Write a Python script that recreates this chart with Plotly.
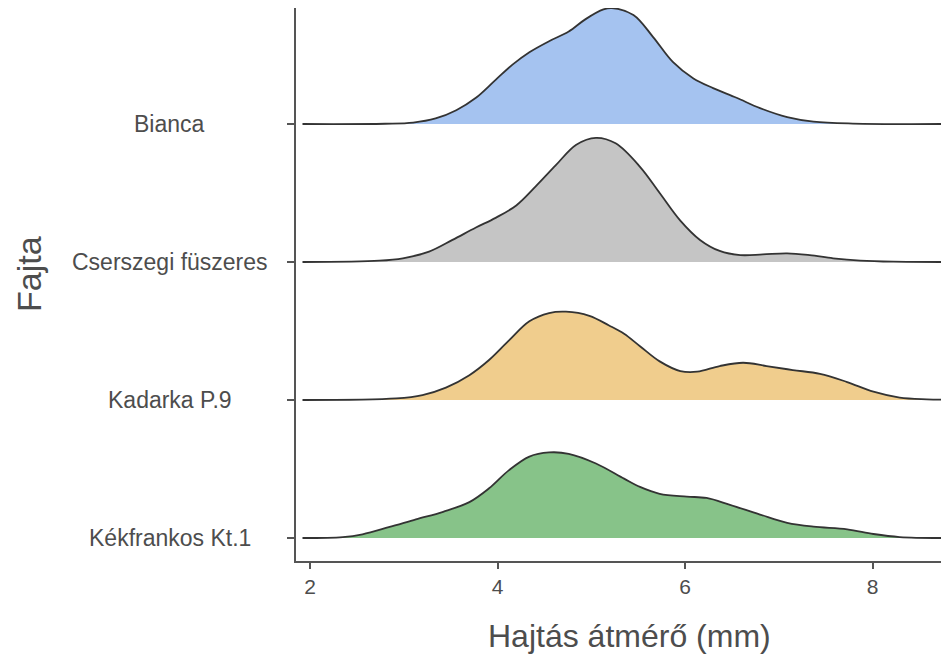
import plotly.graph_objects as go

# Categories (bottom to top positions 1..4)
categories = ["Kékfrankos Kt.1", "Kadarka P.9", "Cserszegi füszeres", "Bianca"]
positions = [1, 2, 3, 4]
colors = ["#87C389", "#F0CD8D", "#C5C5C5", "#A5C3F0"]

# Density curves (heights in units of row spacing)
bianca_x = [1.92, 2.80, 3.10, 3.34, 3.56, 3.77, 3.98, 4.16, 4.34, 4.55, 4.76, 4.94, 5.13, 5.22,
            5.45, 5.66, 5.87, 6.09, 6.30, 6.55, 6.80, 7.09, 7.37, 7.79, 8.79]
bianca_h = [0, 0.002, 0.01, 0.04, 0.10, 0.19, 0.32, 0.43, 0.52, 0.60, 0.67, 0.76, 0.83, 0.84,
            0.79, 0.63, 0.45, 0.33, 0.26, 0.19, 0.115, 0.05, 0.017, 0.003, 0]

cserszegi_x = [1.92, 2.74, 2.99, 3.27, 3.52, 3.77, 3.98, 4.20, 4.41, 4.62, 4.84, 5.05, 5.26,
               5.52, 5.73, 5.95, 6.16, 6.37, 6.59, 6.83, 7.09, 7.33, 7.58, 7.87, 8.22, 8.79]
cserszegi_h = [0, 0.01, 0.027, 0.075, 0.16, 0.25, 0.32, 0.41, 0.55, 0.70, 0.85, 0.90, 0.86,
               0.69, 0.50, 0.30, 0.16, 0.08, 0.05, 0.055, 0.063, 0.05, 0.027, 0.01, 0.002, 0]

kadarka_x = [1.92, 2.92, 3.20, 3.45, 3.70, 3.91, 4.12, 4.34, 4.55, 4.73, 4.98, 5.19, 5.35, 5.52,
             5.73, 5.95, 6.13, 6.37, 6.62, 6.87, 7.15, 7.44, 7.73, 8.01, 8.29, 8.58, 8.82]
kadarka_h = [0, 0.012, 0.036, 0.09, 0.18, 0.29, 0.43, 0.57, 0.63, 0.64, 0.61, 0.54, 0.48, 0.39,
             0.28, 0.21, 0.205, 0.246, 0.27, 0.246, 0.217, 0.19, 0.13, 0.06, 0.017, 0.005, 0.002]

kekfrankos_x = [1.92, 2.35, 2.56, 2.84, 3.13, 3.42, 3.70, 3.91, 4.12, 4.34, 4.55, 4.76, 5.05,
                5.35, 5.52, 5.73, 6.02, 6.23, 6.48, 6.80, 7.09, 7.37, 7.73, 8.01, 8.29, 8.79]
kekfrankos_h = [0, 0.007, 0.027, 0.078, 0.135, 0.19, 0.26, 0.36, 0.49, 0.59, 0.62, 0.61, 0.54,
                0.43, 0.37, 0.32, 0.30, 0.29, 0.24, 0.17, 0.11, 0.082, 0.063, 0.029, 0.007, 0]

x_ticks = [2, 4, 6, 8]
x_title = "Hajtás átmérő (mm)"
y_title = "Fajta"

curves = [(kekfrankos_x, kekfrankos_h), (kadarka_x, kadarka_h),
          (cserszegi_x, cserszegi_h), (bianca_x, bianca_h)]

fig = go.Figure()
# draw from top row to bottom row so lower ridges overlay upper ones
for i in reversed(range(len(categories))):
    xs, hs = curves[i]
    base = positions[i]
    fig.add_trace(go.Scatter(x=xs, y=[base] * len(xs), mode="lines",
                             line=dict(width=0, color="rgba(0,0,0,0)"),
                             hoverinfo="skip", showlegend=False))
    fig.add_trace(go.Scatter(x=xs, y=[base + h for h in hs], mode="lines",
                             line=dict(color="#333333", width=1.8, shape="spline", smoothing=1.0),
                             fill="tonexty", fillcolor=colors[i],
                             name=categories[i], showlegend=False))

FONT = "Arial, Liberation Sans, sans-serif"
axis_col = "#555555"
text_col = "#4D4D4D"

annotations = []
for cat, pos in zip(categories, positions):
    annotations.append(dict(text=cat, x=-0.193, xref="paper", y=pos, yref="y",
                            xanchor="center", yanchor="middle", showarrow=False,
                            font=dict(family=FONT, size=23, color=text_col)))
annotations.append(dict(text=y_title, x=-0.409, xref="paper", y=0.519, yref="paper",
                        textangle=-90, xanchor="center", yanchor="middle", showarrow=False,
                        font=dict(family=FONT, size=34, color=text_col)))
annotations.append(dict(text=x_title, x=0.51, xref="paper", y=-0.1356, yref="paper",
                        xanchor="center", yanchor="middle", showarrow=False,
                        font=dict(family=FONT, size=32, color=text_col)))

# page body has an 8px default margin, so the figure is 8px smaller than the window
fig.update_layout(
    width=941, height=649,
    margin=dict(l=288, r=0, t=0, b=96),
    paper_bgcolor="white", plot_bgcolor="white",
    annotations=annotations,
    xaxis=dict(range=[1.8507, 8.816], tickvals=x_ticks, ticktext=[str(v) for v in x_ticks],
               ticks="outside", ticklen=6, tickwidth=1.5, tickcolor=axis_col,
               showline=True, linecolor=axis_col, linewidth=1.5,
               showgrid=False, zeroline=False,
               tickfont=dict(family=FONT, size=21, color=text_col)),
    yaxis=dict(range=[0.8333, 4.8406], tickvals=positions, showticklabels=False,
               ticks="outside", ticklen=7, tickwidth=1.5, tickcolor=axis_col,
               showline=True, linecolor=axis_col, linewidth=1.5,
               showgrid=False, zeroline=False),
)

fig.write_html("out.html")
